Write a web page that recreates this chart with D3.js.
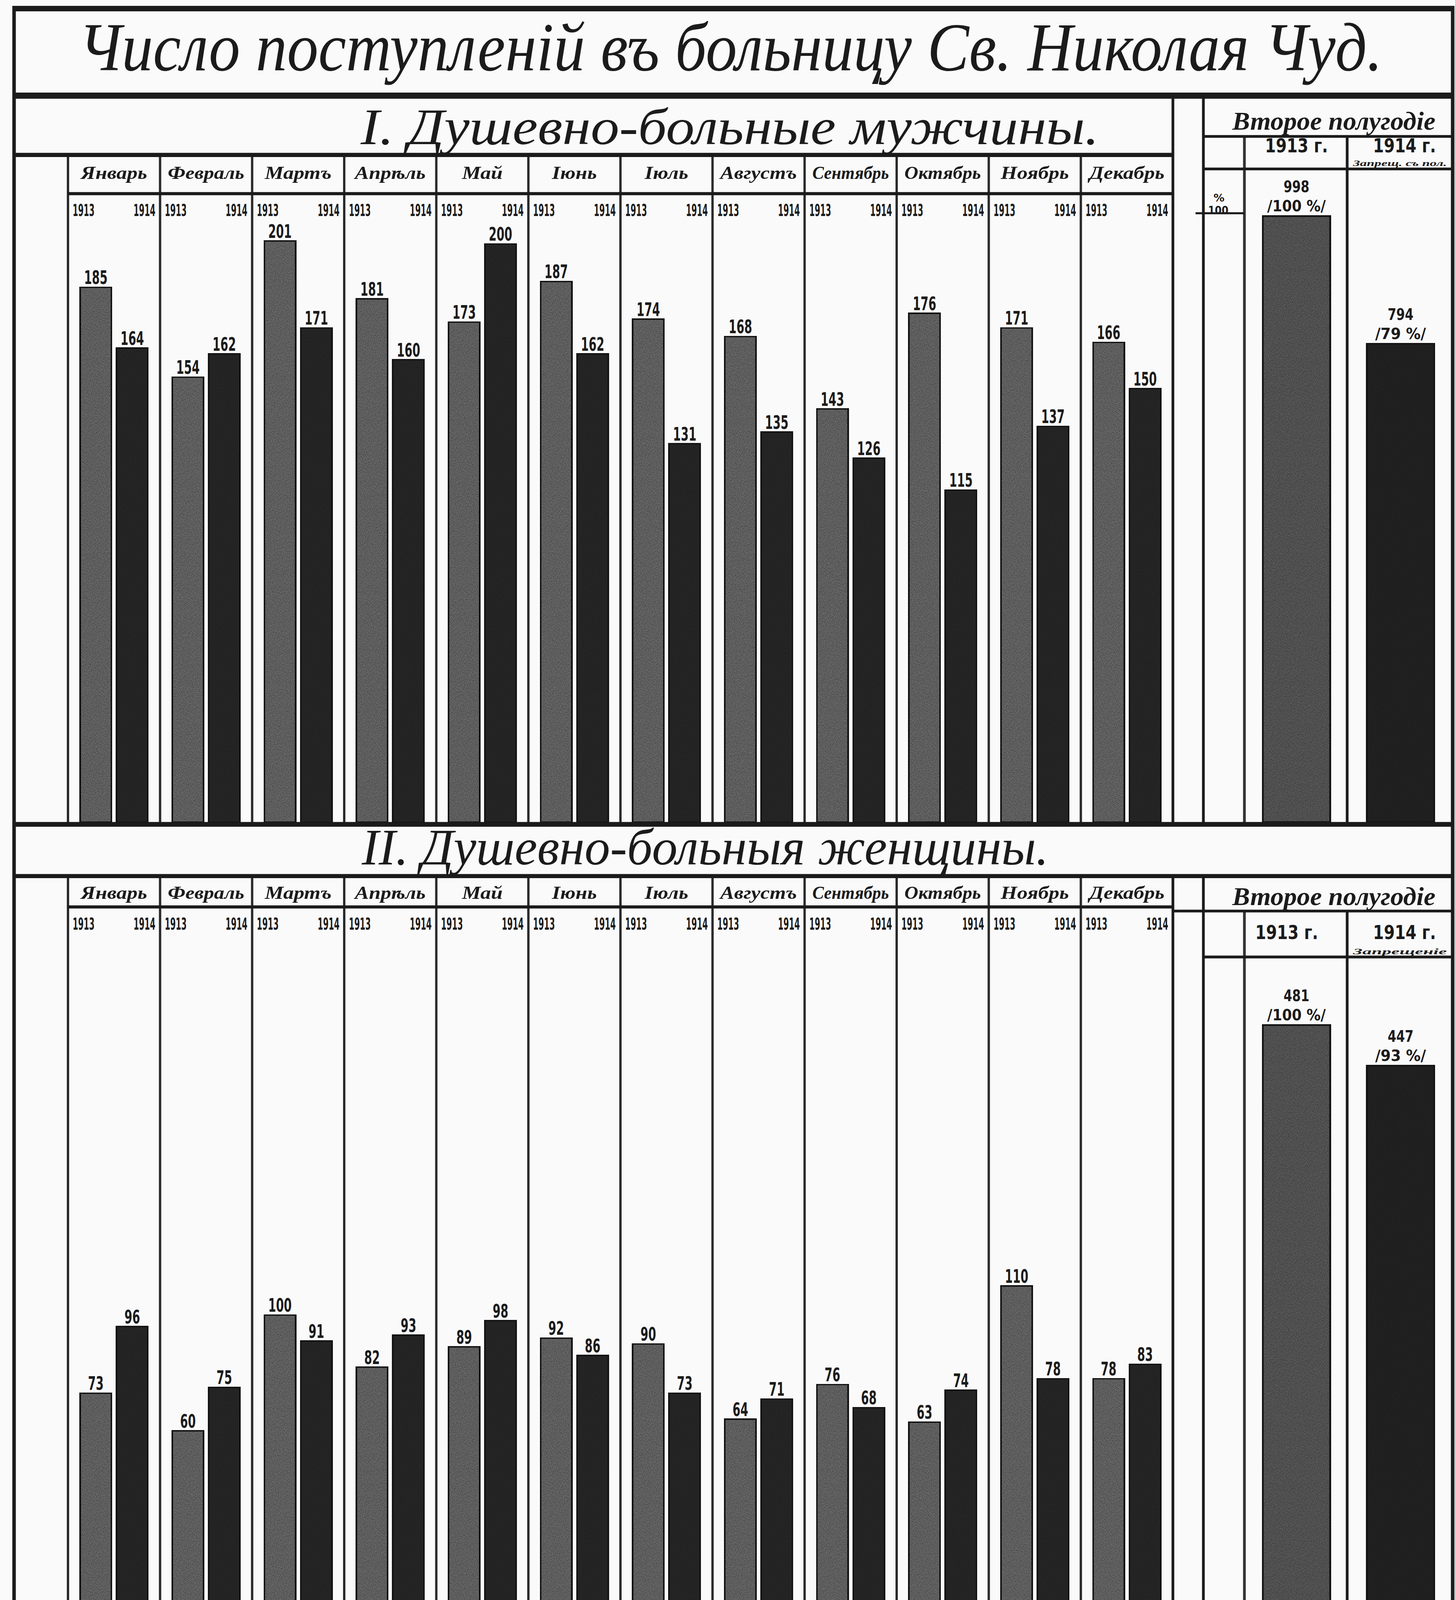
<!DOCTYPE html>
<html>
<head>
<meta charset="utf-8">
<script src="https://cdn.jsdelivr.net/npm/d3@7"></script>
<style>
  html, body { margin: 0; padding: 0; background: #fafafa; overflow: hidden; width: 100%; height: 100%; }
  svg { display: block; }
</style>
</head>
<body>
<script>
// ---------------- DATA ----------------
const titleText = "Число поступленій въ больницу Св. Николая Чуд.";
const sectionTitles = ["I. Душевно-больные мужчины.", "II. Душевно-больныя женщины."];
const months = ["Январь","Февраль","Мартъ","Апрѣль","Май","Iюнь","Iюль","Августъ","Сентябрь","Октябрь","Ноябрь","Декабрь"];
const years = ["1913", "1914"];
const men1913 = [185, 154, 201, 181, 173, 187, 174, 168, 143, 176, 171, 166];
const men1914 = [164, 162, 171, 160, 200, 162, 131, 135, 126, 115, 137, 150];
const women1913 = [73, 60, 100, 82, 89, 92, 90, 64, 76, 63, 110, 78];
const women1914 = [96, 75, 91, 93, 98, 86, 73, 71, 68, 74, 78, 83];
const halfTitle = "Второе полугодiе";
const halfYears = ["1913 г.", "1914 г."];
const halfNote = ["", "Запрещ. съ пол."];
const halfNoteII = ["", "Запрещенiе"];
const menHalf = [998, 794];
const menHalfPct = [100, 79];
const womenHalf = [481, 447];
const womenHalfPct = [100, 93];

// ---------------- LAYOUT ----------------
const W = 3724, H = 4668;
const frameL = 36, frameR = 3718;
const mX0 = 174, mX1 = 3002;
const sumL = 3080, sumC1 = 3185, sumC2 = 3448;

const vw = window.innerWidth || W, vh = window.innerHeight || H;
const svg = d3.select("body").append("svg")
  .attr("width", vw).attr("height", vh)
  .attr("viewBox", `0 0 ${W} ${H}`)
  .attr("preserveAspectRatio", "none");

const defs = svg.append("defs");
function grain(id, freq, slope, icpt, seed) {
  const f = defs.append("filter").attr("id", id)
    .attr("x", 0).attr("y", 0).attr("width", "100%").attr("height", "100%")
    .attr("color-interpolation-filters", "sRGB");
  f.append("feTurbulence").attr("type", "fractalNoise").attr("baseFrequency", freq)
    .attr("numOctaves", 2).attr("seed", seed).attr("result", "n");
  f.append("feColorMatrix").attr("in", "n").attr("type", "matrix")
    .attr("values", "1 0 0 0 0  1 0 0 0 0  1 0 0 0 0  0 0 0 0 1").attr("result", "g");
  const ct = f.append("feComponentTransfer").attr("in", "g").attr("result", "g2");
  ["R","G","B"].forEach(c => ct.append("feFunc" + c).attr("type", "linear").attr("slope", slope).attr("intercept", icpt));
  f.append("feBlend").attr("in", "SourceGraphic").attr("in2", "g2").attr("mode", "multiply").attr("result", "b");
  f.append("feComposite").attr("in", "b").attr("in2", "SourceGraphic").attr("operator", "in");
}
grain("grain", 0.45, 1.2, 0.3, 7);
grain("grain2", 0.5, 0.8, 0.55, 11);

svg.append("rect").attr("width", W).attr("height", H).attr("fill", "#fafafa");
const root = svg.append("g");

const scriptFont = "'Liberation Serif', 'DejaVu Serif', serif";
const numFont = "'Liberation Sans Narrow', 'DejaVu Sans Condensed', 'DejaVu Sans', sans-serif";
const ink = "#1b1b1b";

function line(x1, y1, x2, y2, w, c) {
  root.append("line").attr("x1", x1).attr("y1", y1).attr("x2", x2).attr("y2", y2)
    .attr("stroke", c || ink).attr("stroke-width", w);
}
function fitText(txt, x, y, opt) {
  const t = root.append("text").attr("x", 0).attr("y", 0)
    .attr("text-anchor", opt.anchor || "middle")
    .attr("font-family", opt.family)
    .attr("font-style", opt.italic ? "italic" : "normal")
    .attr("font-weight", opt.weight || "normal")
    .attr("font-size", opt.size).attr("fill", ink).text(txt);
  const nat = t.node().getComputedTextLength() || 1;
  let sx = 1;
  if (opt.target) sx = opt.target / nat;
  else if (opt.maxW && nat > opt.maxW) sx = opt.maxW / nat;
  t.attr("transform", `translate(${x},${y}) scale(${sx},1)`);
  return t;
}
const scriptText = (txt, x, y, size, target, weight, maxW) =>
  fitText(txt, x, y, { family: scriptFont, italic: true, weight, size, target, maxW });
const numText = (txt, x, y, size, target, anchor) =>
  fitText(txt, x, y, { family: numFont, weight: "bold", size, target, anchor });

// ---------------- SCALES ----------------
const xMonth = d3.scaleBand().domain(months).range([mX0, mX1]).paddingInner(0).paddingOuter(0);
const xYear = d3.scaleBand().domain(years).range([0, xMonth.bandwidth()])
  .paddingInner(0.11).paddingOuter(0.32);
const xHalf = d3.scaleBand().domain(halfYears).range([sumC1, frameR]).paddingInner(0.34).paddingOuter(0.17);

const panels = [
  { top: 279, monthTop: 452, yearSep: 565, monthBase: 522, yearBase: 630, bottom: 2403,
    y: d3.scaleLinear().domain([0, 200]).range([2400, 710]),
    a: men1913, b: men1914,
    sumHeadSep: 398, sumYearSep: 493, sumTitleY: 378, sumYearY: 444, sumNoteY: 484,
    yPct: d3.scaleLinear().domain([0, 100]).range([2400, 629]),
    half: menHalf, pct: menHalfPct, note: halfNote, pctMark: true },
  { top: 2405, monthTop: 2556, yearSep: 2646, monthBase: 2622, yearBase: 2712, bottom: H,
    y: d3.scaleLinear().domain([0, 200]).range([4680, 2990]),
    a: women1913, b: women1914,
    sumHeadSep: 2658, sumYearSep: 2792, sumTitleY: 2640, sumYearY: 2740, sumNoteY: 2784,
    yPct: d3.scaleLinear().domain([0, 100]).range([4680, 2989]),
    half: womenHalf, pct: womenHalfPct, note: halfNoteII, pctMark: false }
];

// ---------------- TITLE ----------------
scriptText(titleText, 1870, 205, 200, 3337);

// ---------------- PANELS ----------------
panels.forEach((p, pi) => {
  if (pi === 0) scriptText(sectionTitles[0], 1868, 420, 150, 1890);
  else scriptText(sectionTitles[1], 1805, 2522, 150, 1758);

  months.forEach((m, i) => {
    const x0 = xMonth(m);
    [p.a[i], p.b[i]].forEach((v, j) => {
      const bx = x0 + xYear(years[j]);
      const by = p.y(v);
      const bw = xYear.bandwidth();
      root.append("rect")
        .attr("x", bx).attr("y", by)
        .attr("width", bw).attr("height", p.y(0) - by)
        .attr("fill", j === 0 ? "#6a6a6a" : "#262626")
        .attr("stroke", "#141414").attr("stroke-width", 7)
        .attr("filter", j === 0 ? "url(#grain)" : "url(#grain2)");
      const s = String(v);
      numText(s, bx + bw / 2, by - 8, 54, s.length * 20);
    });
    scriptText(m, x0 + xMonth.bandwidth() / 2, p.monthBase, 54, null, "bold", 196);
    numText(years[0], x0 + 12, p.yearBase, 48, 56, "start");
    numText(years[1], x0 + xMonth.bandwidth() - 12, p.yearBase, 48, 56, "end");
  });

  const seps = months.map(m => xMonth(m)).concat([mX1]);
  seps.forEach(x => line(x, p.monthTop, x, p.bottom, 6, "#2a2a2a"));
  line(mX0, p.yearSep, mX1, p.yearSep, 9);
  line(frameL, p.monthTop, pi === 0 ? mX1 : frameR, p.monthTop, 12);

  line(mX1, pi === 0 ? p.top : p.monthTop, mX1, p.bottom, 7);
  line(sumL, pi === 0 ? p.top : p.monthTop, sumL, p.bottom, 7);
  line(sumC1, p.sumHeadSep, sumC1, p.bottom, 7, "#333");
  line(sumC2, p.sumHeadSep, sumC2, p.bottom, 7);
  line(pi === 0 ? sumL : mX1, p.sumHeadSep, frameR, p.sumHeadSep, 8);
  line(sumL, p.sumYearSep, frameR, p.sumYearSep, 8);

  scriptText(halfTitle, (sumL + frameR) / 2 + 15, p.sumTitleY, 74, 520, "bold");
  halfYears.forEach((t, j) => {
    numText(t, xHalf(t) + xHalf.bandwidth() / 2 + (j === 0 ? (pi === 0 ? 0 : -25) : 10), p.sumYearY, 56, t.length * 23);
    if (p.note[j]) scriptText(p.note[j], 3583, p.sumNoteY, 24, 240, "bold");
  });

  halfYears.forEach((t, j) => {
    const bx = xHalf(t), bw = xHalf.bandwidth();
    const by = p.yPct(p.pct[j]);
    root.append("rect")
      .attr("x", bx).attr("y", by)
      .attr("width", bw).attr("height", p.yPct(0) - by)
      .attr("fill", j === 0 ? "#5a5a5a" : "#222")
      .attr("stroke", "#141414").attr("stroke-width", 8)
      .attr("filter", j === 0 ? "url(#grain)" : "url(#grain2)");
    numText(String(p.half[j]), bx + bw / 2, by - 68, 46, 66);
    numText("/" + p.pct[j] + " %/", bx + bw / 2, by - 12, 44, p.pct[j] >= 100 ? 150 : 130);
  });

  if (p.pctMark) {
    const yy = p.yPct(100) - 7;
    line(3060, yy, sumC1, yy, 6);
    numText("%", 3120, yy - 34, 30, 28);
    numText("100", 3118, yy + 2, 32, 52);
  }
});

// ---------------- FRAME ----------------
line(frameL, 25, frameR, 25, 16);
line(frameL, 279, frameR, 279, 18);
line(frameL, 2405, frameR, 2405, 14);
line(frameL, 17, frameL, H, 9);
line(frameR, 17, frameR, H, 9);
</script>
</body>
</html>
